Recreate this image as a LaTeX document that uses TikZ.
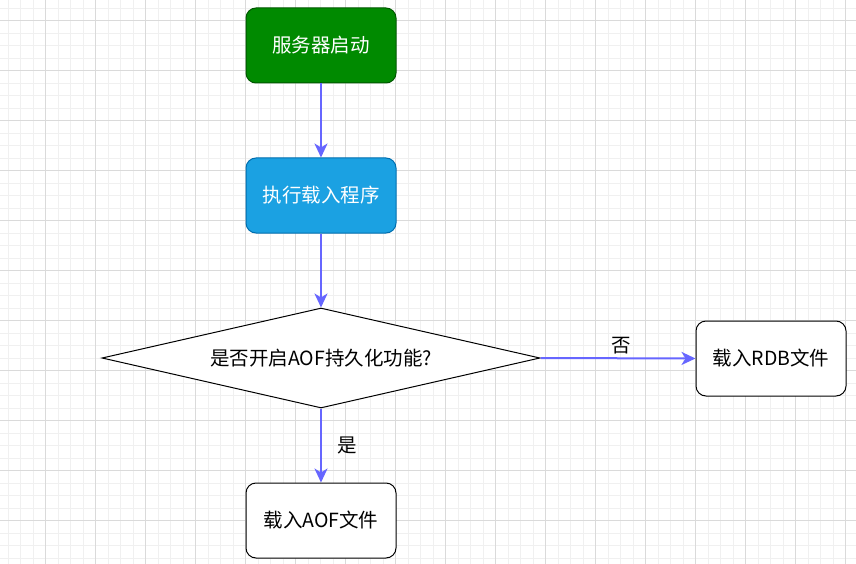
\documentclass[tikz,border=0pt]{standalone}
\usepackage{fontspec}
\setmainfont{Noto Sans CJK SC}
\usetikzlibrary{arrows.meta,shapes.geometric}
\definecolor{gridminor}{HTML}{F0F0F0}
\definecolor{gridmajor}{HTML}{DADADA}
\definecolor{startfill}{HTML}{008A00}
\definecolor{startline}{HTML}{005700}
\definecolor{procfill}{HTML}{1BA1E2}
\definecolor{procline}{HTML}{006EAF}
\definecolor{flow}{HTML}{6666FF}
\tikzset{
  txt/.style={font=\fontsize{19.5}{23}\selectfont},
  box/.style={draw, rounded corners=10pt, minimum width=150pt, minimum height=75pt, inner sep=0pt, line width=1pt, txt},
  startbox/.style={box, fill=startfill, draw=startline, text=white},
  procbox/.style={box, fill=procfill, draw=procline, text=white},
  plainbox/.style={box, fill=white, draw=black},
  decision/.style={draw=black, fill=white, diamond, aspect=4.38, minimum width=438pt, minimum height=100pt, inner sep=0pt, line width=1pt, txt},
  flowline/.style={draw=flow, line width=2pt, -{Stealth[length=14pt,width=13pt,inset=4pt]}},
  lbl/.style={txt, inner sep=0pt}
}
\begin{document}
\begin{tikzpicture}[x=1pt,y=-1pt]
\useasboundingbox (0,0) rectangle (856,564);
\fill[white] (0,0) rectangle (856,564);
% minor grid
\foreach \i in {0,...,68} {
  \draw[gridminor, line width=1pt] ({8.3+12.5*\i},0) -- ({8.3+12.5*\i},564);
}
\foreach \j in {0,...,45} {
  \draw[gridminor, line width=1pt] (0,{8.3+12.5*\j}) -- (856,{8.3+12.5*\j});
}
% major grid
\foreach \i in {0,...,16} {
  \draw[gridmajor, line width=1pt] ({45.8+50*\i},0) -- ({45.8+50*\i},564);
}
\foreach \j in {0,...,11} {
  \draw[gridmajor, line width=1pt] (0,{20.8+50*\j}) -- (856,{20.8+50*\j});
}
% nodes
\node[startbox] (start) at (321,45.5) {服务器启动};
\node[procbox] (load) at (321,195.5) {执行载入程序};
\node[decision] (aof) at (321,358) {是否开启AOF持久化功能?};
\node[plainbox] (rdb) at (771,358.5) {载入RDB文件};
\node[plainbox] (aoffile) at (321,520.5) {载入AOF文件};
% connectors
\draw[flowline] (start.south) -- (load.north);
\draw[flowline] (load.south) -- (aof.north);
\draw[flowline] (aof.east) -- (rdb.west) node[lbl, pos=0.52, above=3pt] (no) {否};
\draw[flowline] (aof.south) -- (aoffile.north) node[lbl, pos=0.5, right=15pt] (yes) {是};
\end{tikzpicture}
\end{document}
